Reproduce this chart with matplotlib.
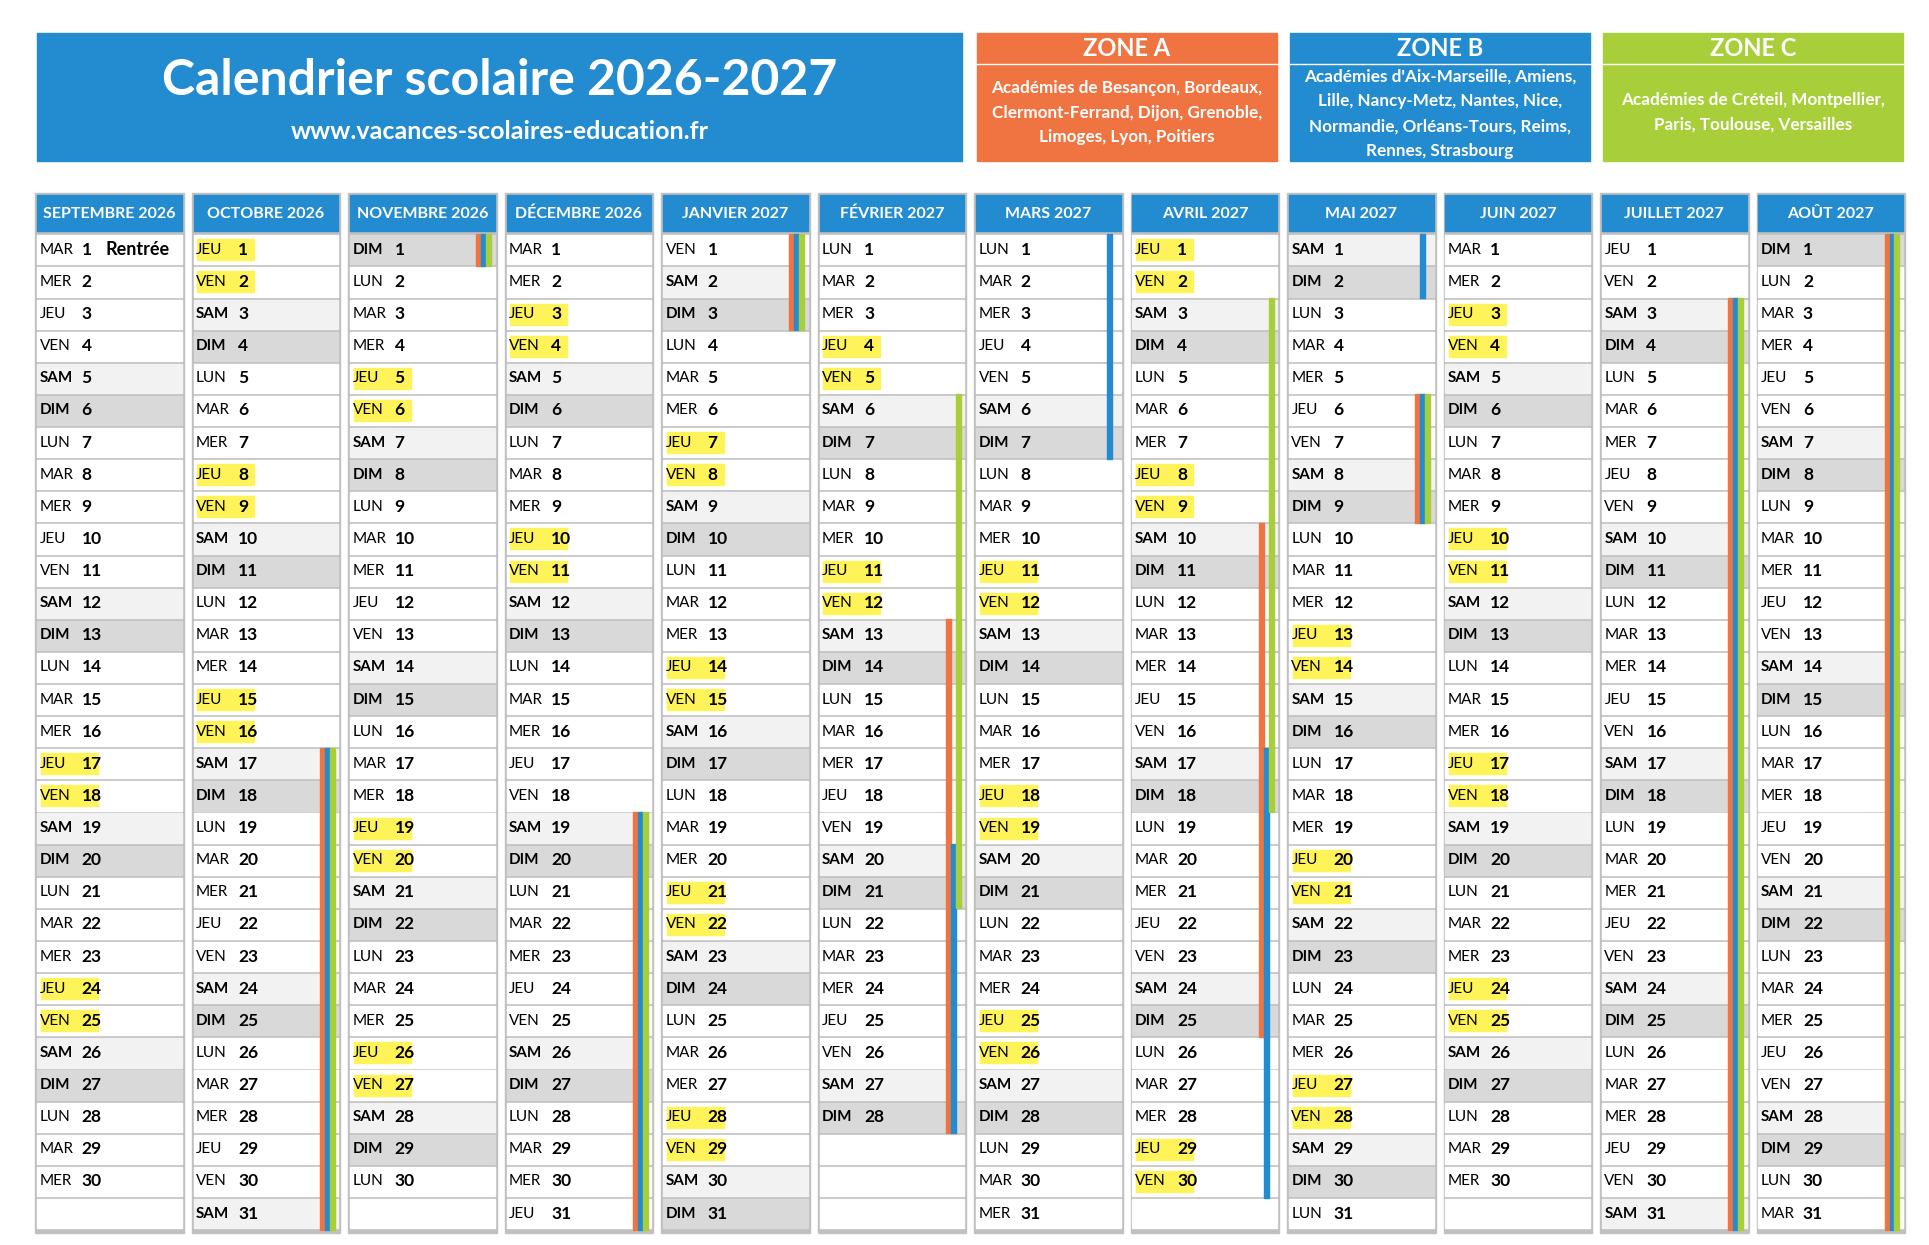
import datetime as dt
import matplotlib.pyplot as plt
import matplotlib.patches as patches

plt.rcParams['font.family'] = ['Lato', 'DejaVu Sans']

months = [(2026, 9), (2026, 10), (2026, 11), (2026, 12), (2027, 1), (2027, 2),
          (2027, 3), (2027, 4), (2027, 5), (2027, 6), (2027, 7), (2027, 8)]
month_names = ['SEPTEMBRE 2026', 'OCTOBRE 2026', 'NOVEMBRE 2026', 'DÉCEMBRE 2026',
               'JANVIER 2027', 'FÉVRIER 2027', 'MARS 2027', 'AVRIL 2027',
               'MAI 2027', 'JUIN 2027', 'JUILLET 2027', 'AOÛT 2027']
day_names = ['LUN', 'MAR', 'MER', 'JEU', 'VEN', 'SAM', 'DIM']

# highlighted days (yellow) per month
highlight = {
    (2026, 9): [17, 18, 24, 25],
    (2026, 10): [1, 2, 8, 9, 15, 16],
    (2026, 11): [5, 6, 19, 20, 26, 27],
    (2026, 12): [3, 4, 10, 11],
    (2027, 1): [7, 8, 14, 15, 21, 22, 28, 29],
    (2027, 2): [4, 5, 11, 12],
    (2027, 3): [11, 12, 18, 19, 25, 26],
    (2027, 4): [1, 2, 8, 9, 29, 30],
    (2027, 5): [13, 14, 20, 21, 27, 28],
    (2027, 6): [3, 4, 10, 11, 17, 18, 24, 25],
}

D = dt.date
common = [(D(2026, 10, 17), D(2026, 11, 1)), (D(2026, 12, 19), D(2027, 1, 3)),
          (D(2027, 5, 6), D(2027, 5, 9)), (D(2027, 7, 3), D(2027, 8, 31))]
holidays = {
    'A': common + [(D(2027, 2, 13), D(2027, 2, 28)), (D(2027, 4, 10), D(2027, 4, 25))],
    'B': common + [(D(2027, 2, 20), D(2027, 3, 7)), (D(2027, 4, 17), D(2027, 5, 2))],
    'C': common + [(D(2027, 2, 6), D(2027, 2, 21)), (D(2027, 4, 3), D(2027, 4, 18))],
}
zone_text = {
    'A': ['Académies de Besançon, Bordeaux,', 'Clermont-Ferrand, Dijon, Grenoble,',
          'Limoges, Lyon, Poitiers'],
    'B': ["Académies d'Aix-Marseille, Amiens,", 'Lille, Nancy-Metz, Nantes, Nice,',
          'Normandie, Orléans-Tours, Reims,', 'Rennes, Strasbourg'],
    'C': ['Académies de Créteil, Montpellier,', 'Paris, Toulouse, Versailles'],
}
zone_y0 = {'A': 71, 'B': 62, 'C': 81}

BLUE = '#238bd0'
ORANGE = '#ef7442'
GREEN = '#a8cf3a'
zone_color = {'A': ORANGE, 'B': BLUE, 'C': GREEN}
slot = {'A': 15, 'B': 11, 'C': 7}

W, H = 1559.4, 1006.5
fig = plt.figure(figsize=(19.29, 12.45), dpi=100)
ax = fig.add_axes([0, 0, 1, 1])
ax.set_xlim(0, W)
ax.set_ylim(H, 0)
ax.axis('off')

# title box
ax.add_patch(patches.Rectangle((30, 27), 748, 103, color=BLUE))
ax.text(404, 65, 'Calendrier scolaire 2026-2027', color='white', fontsize=36,
        fontweight='bold', ha='center', va='center')
ax.text(404, 106, 'www.vacances-scolaires-education.fr', color='white', fontsize=18,
        fontweight='bold', ha='center', va='center')

for k, z in enumerate('ABC'):
    x = 790 + k * 253
    ax.add_patch(patches.Rectangle((x, 27), 242, 103, color=zone_color[z]))
    ax.plot([x, x + 242], [52, 52], color='white', lw=1)
    ax.text(x + 121, 39, 'ZONE ' + z, color='white', fontsize=17, fontweight='bold',
            ha='center', va='center')
    for j, t in enumerate(zone_text[z]):
        ax.text(x + 121, zone_y0[z] + j * 20, t, color='white', fontsize=12.3,
                fontweight='bold', ha='center', va='center')

cw, pitch, top = 117, 25.97, 189
for i, (yr, mo) in enumerate(months):
    x = 30 + i * 126.5
    ax.add_patch(patches.Rectangle((x - 1.5, 156), cw + 3, 995 - 156 + 1.5, color='#c0c0c0'))
    ax.add_patch(patches.Rectangle((x, 158), cw, 29, color=BLUE))
    ax.text(x + cw / 2, 173, month_names[i], color='white', fontsize=11.5,
            fontweight='bold', ha='center', va='center')
    for r in range(31):
        y = top + r * pitch
        try:
            d = D(yr, mo, r + 1)
        except ValueError:
            d = None
        fc = 'white'
        if d is not None and d.weekday() == 5:
            fc = '#f2f2f2'
        elif d is not None and d.weekday() == 6:
            fc = '#d9d9d9'
        ax.add_patch(patches.Rectangle((x, y + 1.2), cw, pitch - 2.4, color=fc))
        if d is None:
            continue
        yc = y + pitch / 2
        wk = d.weekday() >= 5
        if d.day in highlight.get((yr, mo), []):
            ax.add_patch(patches.Rectangle((x + 3, yc - 8.5), 46, 17, color='#fff35a'))
        ax.text(x + 2, yc, day_names[d.weekday()], fontsize=11,
                fontweight='bold' if wk else 'normal', va='center', ha='left')
        ax.text(x + 36, yc, str(d.day), fontsize=12.5, fontweight='bold',
                va='center', ha='left')
        if (yr, mo, d.day) == (2026, 9, 1):
            ax.text(x + 55, yc, 'Rentrée', fontsize=13, fontweight='bold', va='center')
    # vacation stripes
    for z in 'ABC':
        for s, e in holidays[z]:
            rows = []
            for r in range(31):
                try:
                    d = D(yr, mo, r + 1)
                except ValueError:
                    continue
                if s <= d <= e:
                    rows.append(r)
            if rows:
                y1 = top + rows[0] * pitch
                y2 = top + (rows[-1] + 1) * pitch
                ax.add_patch(patches.Rectangle((x + cw - slot[z], y1), 4, y2 - y1,
                                               color=zone_color[z], zorder=3))

fig.savefig('out.png', dpi=100)
